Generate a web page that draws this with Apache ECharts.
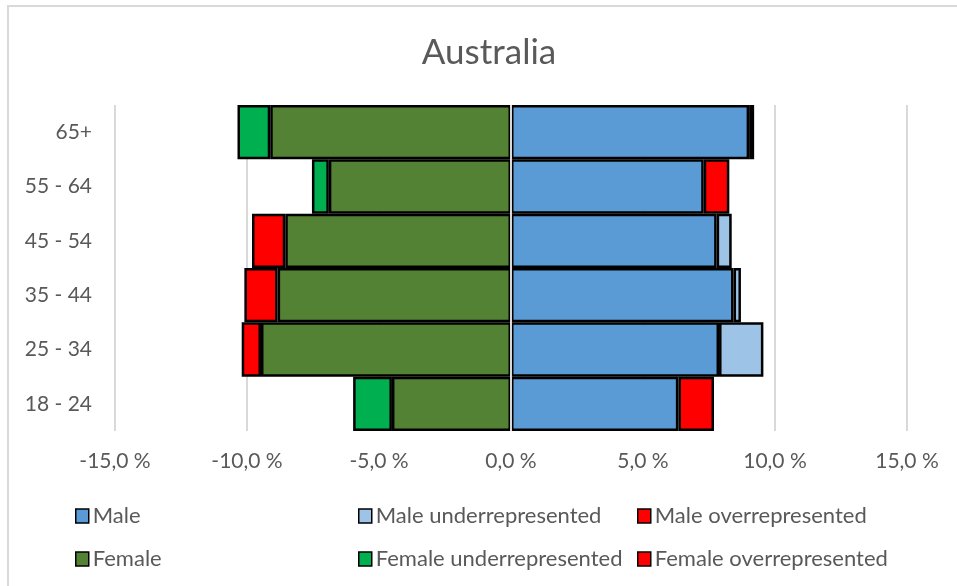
<!DOCTYPE html>
<html>
<head>
<meta charset="utf-8">
<script src="https://cdn.jsdelivr.net/npm/echarts@6/dist/echarts.min.js"></script>
<style>html,body{margin:0;padding:0;background:#fff}#c{width:957px;height:586px}</style>
</head>
<body>
<div id="c"></div>
<script>
const categories = ['18 - 24', '25 - 34', '35 - 44', '45 - 54', '55 - 64', '65+'];
const male = [6.34, 7.88, 8.43, 7.79, 7.30, 9.02];
const maleUnder = [null, 1.68, 0.28, 0.57, null, null];
const maleOver = [1.35, null, null, null, 0.97, 0.19];
const female = [4.51, 9.47, 8.84, 8.55, 6.90, 9.12];
const femaleUnder = [1.47, null, null, null, 0.64, 1.24];
const femaleOver = [null, 0.73, 1.26, 1.26, null, null];
const xTicks = { min: -15, max: 15, interval: 5 };

const FONT = 'Lato, "Liberation Sans", sans-serif';
const TXT = '#595959';
const neg = a => a.map(v => v == null ? null : -v);

const chart = echarts.init(document.getElementById('c'), null, { renderer: 'canvas' });
const border = { borderColor: '#000', borderWidth: 2.5 };
function bar(name, data, color, extra) {
  return Object.assign({
    name, type: 'bar', stack: 'pop', data,
    barCategoryGap: '0%',
    itemStyle: Object.assign({ color }, border),
    emphasis: { disabled: true }
  }, extra || {});
}
function leg(name, left, top) {
  return {
    data: [name], left, top, orient: 'horizontal', itemWidth: 13, itemHeight: 14,
    icon: 'rect', selectedMode: false, padding: 0,
    itemStyle: { borderColor: '#000', borderWidth: 1.5 },
    textStyle: { fontFamily: FONT, fontSize: 22, color: TXT, padding: [0, 0, 0, -1] }
  };
}
chart.setOption({
  animation: false,
  textStyle: { fontFamily: FONT },
  graphic: [{ type: 'rect', shape: { x: 8, y: 6, width: 980, height: 620 },
    style: { fill: 'none', stroke: '#d9d9d9', lineWidth: 2 }, silent: true }],
  title: { text: 'Australia', left: 484, top: 30, textAlign: 'center',
    textStyle: { fontFamily: FONT, fontSize: 35, fontWeight: 'normal', color: TXT } },
  grid: { left: 115, right: 50, top: 105, bottom: 155, containLabel: false },
  xAxis: {
    type: 'value', min: xTicks.min, max: xTicks.max, interval: xTicks.interval,
    axisLine: { show: false }, axisTick: { show: false },
    splitLine: { show: true, lineStyle: { color: '#d9d9d9', width: 2 } },
    axisLabel: { fontFamily: FONT, fontSize: 21, color: TXT, margin: 20,
      formatter: v => v.toFixed(1).replace('.', ',') + ' %' }
  },
  yAxis: {
    type: 'category', data: categories,
    axisLine: { show: false, onZero: false }, axisTick: { show: false },
    splitLine: { show: false },
    axisLabel: { fontFamily: FONT, fontSize: 21, color: TXT, margin: 23 }
  },
  legend: [
    leg('Male', 75, 505),
    leg('Female', 75, 548),
    leg('Male underrepresented', 358, 505),
    leg('Female underrepresented', 358, 548),
    leg('Male overrepresented', 637, 505),
    leg('Female overrepresented', 637, 548)
  ],
  series: [
    bar('Male', male, '#5b9bd5'),
    bar('Male underrepresented', maleUnder, '#9dc3e6'),
    bar('Male overrepresented', maleOver, '#ff0000'),
    bar('Female', neg(female), '#548235'),
    bar('Female underrepresented', neg(femaleUnder), '#00b050'),
    bar('Female overrepresented', neg(femaleOver), '#ff0000', {
      markLine: { silent: true, symbol: 'none', label: { show: false },
        lineStyle: { color: '#d9d9d9', width: 2, type: 'solid' },
        data: [{ xAxis: 0 }] }
    })
  ]
});
</script>
</body>
</html>
